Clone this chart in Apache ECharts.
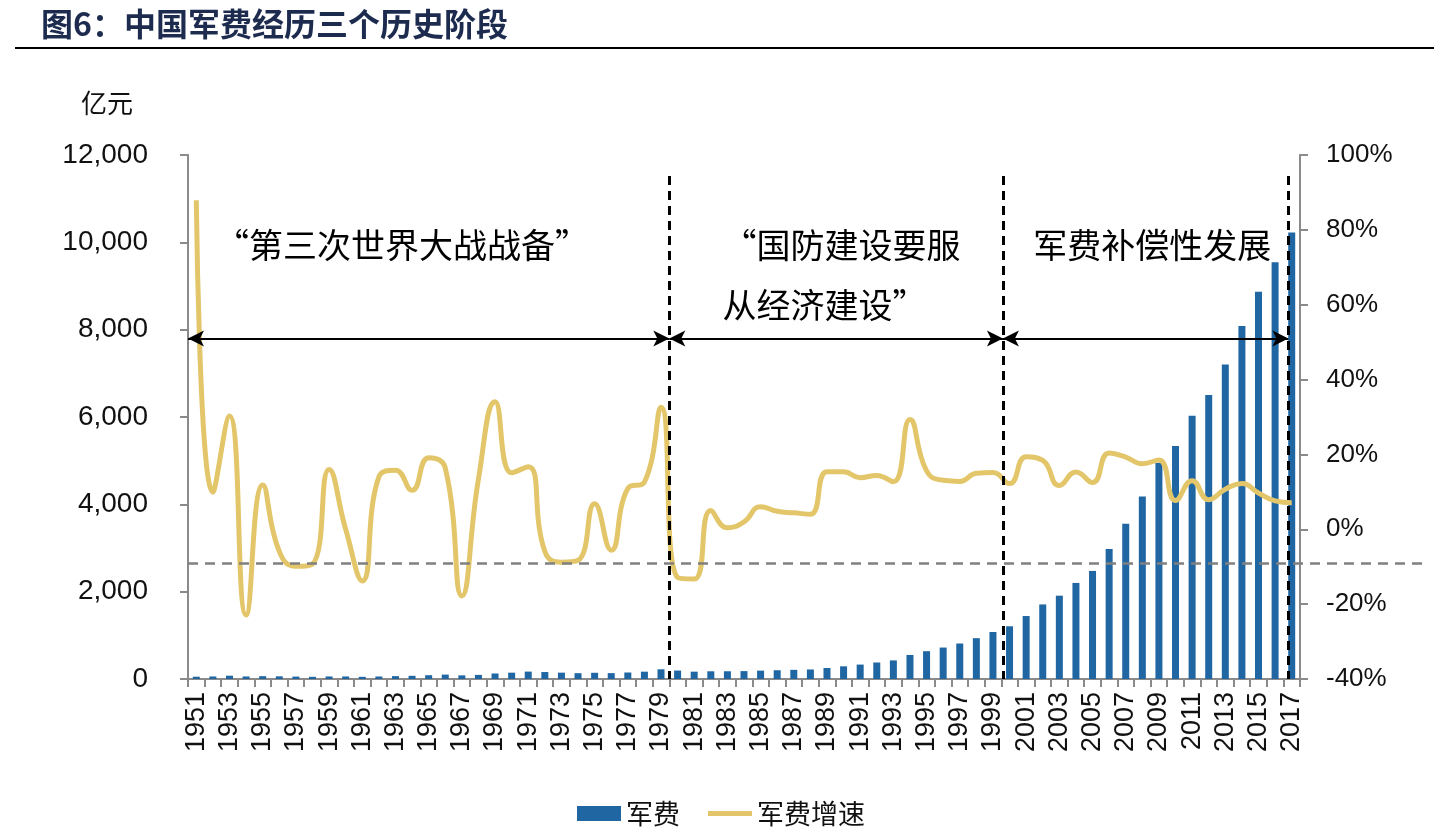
<!DOCTYPE html>
<html>
<head>
<meta charset="utf-8">
<script src="https://cdn.jsdelivr.net/npm/echarts@6/dist/echarts.min.js"></script>
<style>
html,body{margin:0;padding:0;background:#fff;}
#chart{width:1434px;height:831px;}
</style>
</head>
<body>
<div id="chart"></div>
<script>
// ---- data ----
const years = ['1951','1952','1953','1954','1955','1956','1957','1958','1959','1960',
'1961','1962','1963','1964','1965','1966','1967','1968','1969','1970',
'1971','1972','1973','1974','1975','1976','1977','1978','1979','1980',
'1981','1982','1983','1984','1985','1986','1987','1988','1989','1990',
'1991','1992','1993','1994','1995','1996','1997','1998','1999','2000',
'2001','2002','2003','2004','2005','2006','2007','2008','2009','2010',
'2011','2012','2013','2014','2015','2016','2017'];
// 军费 (亿元)
const spending = [52.6,57.8,75.4,58.1,65.0,61.2,55.1,50.0,58.0,58.0,
50.0,57.0,66.0,72.9,86.8,101.0,83.0,94.1,126.2,145.3,
169.5,159.4,145.4,133.4,142.5,134.5,149.0,167.8,222.6,193.8,
168.0,176.4,177.1,180.8,191.5,200.8,209.6,218.0,251.5,290.3,
330.3,377.9,425.8,550.7,636.7,720.1,812.6,934.7,1076.4,1207.5,
1442.0,1707.8,1907.9,2200.0,2475.0,2979.4,3554.9,4178.8,4951.1,5333.4,
6027.9,6503.1,7201.7,8082.3,8869.0,9543.5,10226.0];
// 军费增速 (%)
const growth = [87.9,9.9,30.3,-22.9,11.8,-5.9,-9.9,-9.3,16.0,0.0,
-13.8,14.0,15.8,10.4,19.1,16.4,-17.8,13.4,34.1,15.1,
16.7,-5.9,-8.8,-8.3,6.8,-5.6,10.9,12.6,32.6,-12.9,
-13.3,5.0,0.4,2.0,6.0,4.8,4.4,4.0,15.4,15.4,
13.8,14.4,12.7,29.3,15.6,13.1,12.8,15.0,15.2,12.2,
19.4,18.4,11.7,15.3,12.5,20.4,19.3,17.5,18.5,7.7,
13.0,7.9,10.7,12.2,9.7,7.6,7.1];
// stage boundaries (year position) and reference level
const stageBounds = [1950.5, 1979.5, 1999.6, 2016.8];
const refGrowth = -9;
const stageLabels = ['“第三次世界大战战备”', '“国防建设要服\n从经济建设”', '军费补偿性发展'];

const chart = echarts.init(document.getElementById('chart'));
const axisGray = '#8a8a8a';
const numFont = 'Liberation Sans, Arial, sans-serif';
const cjkFont = '"Noto Sans CJK SC", sans-serif';

const arrowY = 7800;
const topY = 11520;
const dashBlack = {color: '#000', type: [9, 6], width: 3};
const arrowStyle = {color: '#000', type: 'solid', width: 2};

const option = {
  animation: false,
  backgroundColor: '#fff',
  title: {
    text: '图6：中国军费经历三个历史阶段',
    left: 36, top: 3,
    textStyle: {fontFamily: cjkFont, fontSize: 32, fontWeight: 'bold', color: '#1d2b4f'}
  },
  graphic: [{
    type: 'line', shape: {x1: 15, y1: 48, x2: 1434, y2: 48},
    style: {stroke: '#000', lineWidth: 2}
  }],
  legend: {
    data: [
      {name: '军费', icon: 'rect'},
      {name: '军费增速', icon: 'path://M0,0L46,0L46,5L0,5Z'}
    ],
    left: 572, top: 795,
    itemWidth: 44, itemHeight: 15, itemGap: 28,
    textStyle: {fontFamily: cjkFont, fontSize: 27, color: '#111'}
  },
  grid: [
    {left: 188, right: 134, top: 155, bottom: 152},
    {left: 188, right: 9, top: 155, bottom: 152}
  ],
  xAxis: [{
    type: 'category', data: years, gridIndex: 0,
    axisLine: {lineStyle: {color: axisGray, width: 2}},
    axisTick: {show: true, interval: 0, length: 8, lineStyle: {color: axisGray, width: 2}},
    axisLabel: {interval: 1, rotate: 90, margin: 13, fontFamily: numFont, fontSize: 27, color: '#111'},
    splitLine: {show: false}
  }, {
    type: 'value', gridIndex: 0, min: 1950.5, max: 2017.5, show: false
  }, {
    type: 'value', gridIndex: 1, min: 0, max: 1, show: false
  }],
  yAxis: [{
    type: 'value', gridIndex: 0, min: 0, max: 12000, interval: 2000,
    name: '亿元', nameLocation: 'end', nameGap: 39,
    nameTextStyle: {fontFamily: cjkFont, fontSize: 26, color: '#111', align: 'right', padding: [0, 55, 0, 0]},
    axisLine: {show: true, lineStyle: {color: axisGray, width: 2}},
    axisTick: {show: true, length: 8, lineStyle: {color: axisGray, width: 2}},
    axisLabel: {margin: 40, fontFamily: numFont, fontSize: 28, color: '#111',
      formatter: v => v.toLocaleString('en-US')},
    splitLine: {show: false}
  }, {
    type: 'value', gridIndex: 0, min: -40, max: 100, interval: 20,
    axisLine: {show: true, lineStyle: {color: axisGray, width: 2}},
    axisTick: {show: true, length: 8, lineStyle: {color: axisGray, width: 2}},
    axisLabel: {margin: 26, fontFamily: numFont, fontSize: 26, color: '#111', formatter: '{value}%'},
    splitLine: {show: false}
  }, {
    type: 'value', gridIndex: 1, min: -40, max: 100, show: false
  }],
  series: [{
    name: '军费', type: 'bar', data: spending,
    barWidth: 7,
    itemStyle: {color: '#1f66a3'},
    z: 2
  }, {
    name: '军费增速', type: 'line', data: growth, yAxisIndex: 1,
    smooth: true, symbol: 'none',
    lineStyle: {color: '#e3c66a', width: 5},
    itemStyle: {color: '#e3c66a'},
    z: 3
  }, {
    name: 'ref', type: 'line', data: [], xAxisIndex: 2, yAxisIndex: 2,
    silent: true, z: 1,
    markLine: {
      silent: true, symbol: 'none', animation: false,
      label: {show: false},
      lineStyle: {color: '#808080', type: [10, 7], width: 2.5},
      data: [[{coord: [0, refGrowth]}, {coord: [1, refGrowth]}]]
    }
  }, {
    name: 'stages', type: 'line', data: [], xAxisIndex: 1, yAxisIndex: 0,
    silent: true, z: 5,
    markLine: {
      silent: true, animation: false,
      label: {show: false},
      data: [
        [{coord: [stageBounds[1], topY], symbol: 'none', lineStyle: dashBlack},
         {coord: [stageBounds[1], 0], symbol: 'none'}],
        [{coord: [stageBounds[2], topY], symbol: 'none', lineStyle: dashBlack},
         {coord: [stageBounds[2], 0], symbol: 'none'}],
        [{coord: [stageBounds[3], topY], symbol: 'none', lineStyle: dashBlack},
         {coord: [stageBounds[3], 0], symbol: 'none'}],
        [{coord: [stageBounds[0], arrowY], symbol: 'arrow', symbolSize: [12, 16], lineStyle: arrowStyle},
         {coord: [stageBounds[1], arrowY], symbol: 'arrow', symbolSize: [12, 16]}],
        [{coord: [stageBounds[1], arrowY], symbol: 'arrow', symbolSize: [12, 16], lineStyle: arrowStyle},
         {coord: [stageBounds[2], arrowY], symbol: 'arrow', symbolSize: [12, 16]}],
        [{coord: [stageBounds[2], arrowY], symbol: 'arrow', symbolSize: [12, 16], lineStyle: arrowStyle},
         {coord: [stageBounds[3], arrowY], symbol: 'arrow', symbolSize: [12, 16]}]
      ]
    },
    markPoint: {
      silent: true, animation: false,
      symbol: 'circle', symbolSize: 0,
      label: {show: true, position: 'inside', fontFamily: cjkFont, fontSize: 34, color: '#000', lineHeight: 60},
      data: [
        {coord: [1963.4, 9940], label: {formatter: stageLabels[0], align: 'center'}},
        {coord: [1982.7, 9250], label: {formatter: stageLabels[1], align: 'left'}},
        {coord: [2008.6, 9940], label: {formatter: stageLabels[2], align: 'center'}}
      ]
    }
  }]
};
chart.setOption(option);
</script>
</body>
</html>
